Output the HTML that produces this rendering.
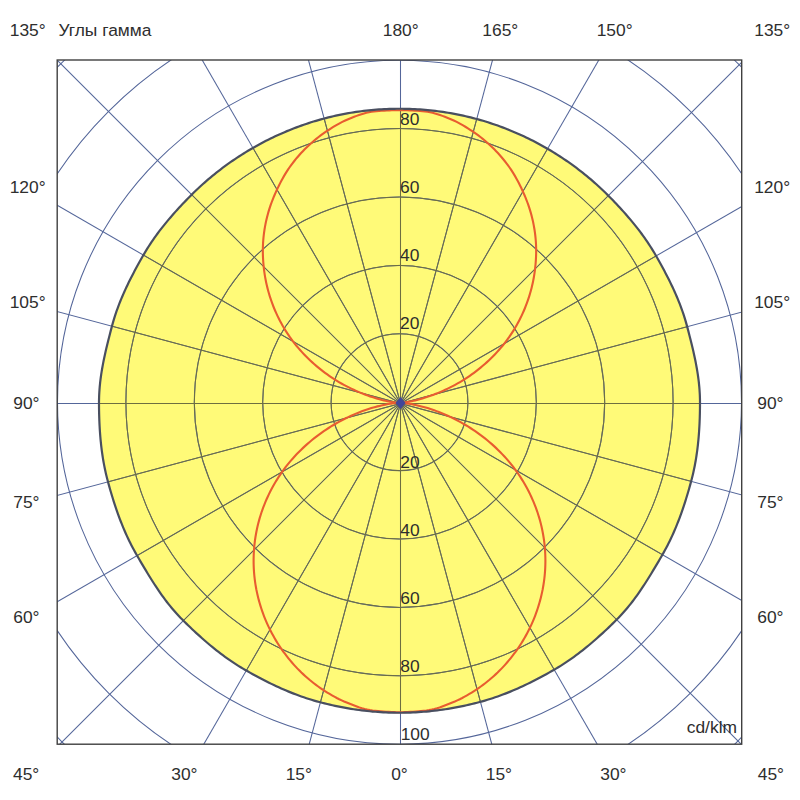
<!DOCTYPE html>
<html><head><meta charset="utf-8"><style>
html,body{margin:0;padding:0;background:#fff;}
svg{display:block;}
text{font-family:"Liberation Sans",sans-serif;font-size:17.4px;fill:#2e2e2e;}
</style></head><body>
<svg width="800" height="800" viewBox="0 0 800 800">
<defs><clipPath id="yc"><path d="M399.50,712.75 L402.20,712.74 L404.91,712.70 L407.61,712.64 L410.31,712.55 L413.02,712.45 L415.72,712.31 L418.41,712.15 L421.11,711.97 L423.81,711.76 L426.50,711.53 L429.19,711.28 L431.88,711.00 L434.57,710.70 L437.25,710.37 L439.93,710.02 L442.61,709.65 L445.29,709.26 L447.96,708.84 L450.62,708.40 L453.29,707.93 L455.94,707.44 L458.60,706.93 L461.25,706.40 L463.89,705.85 L466.53,705.27 L469.17,704.67 L471.80,704.05 L474.42,703.40 L477.04,702.74 L479.66,702.05 L482.26,701.33 L484.86,700.59 L487.45,699.82 L490.03,699.01 L492.60,698.18 L495.16,697.32 L497.72,696.44 L500.26,695.52 L502.79,694.58 L505.31,693.62 L507.82,692.63 L510.33,691.61 L512.82,690.57 L515.30,689.51 L517.77,688.42 L520.23,687.32 L522.68,686.19 L525.12,685.05 L527.55,683.88 L529.97,682.70 L532.38,681.50 L534.79,680.28 L537.18,679.05 L539.57,677.80 L541.94,676.53 L544.31,675.25 L546.67,673.96 L549.02,672.65 L551.37,671.32 L553.70,669.98 L556.02,668.62 L558.33,667.24 L560.62,665.82 L562.89,664.38 L565.15,662.91 L567.38,661.42 L569.60,659.90 L571.81,658.36 L573.99,656.79 L576.16,655.20 L578.31,653.59 L580.45,651.95 L582.57,650.30 L584.67,648.63 L586.76,646.94 L588.83,645.23 L590.88,643.50 L592.92,641.76 L594.95,640.00 L596.96,638.23 L598.96,636.44 L600.95,634.64 L602.93,632.83 L604.89,631.01 L606.84,629.18 L608.78,627.33 L610.71,625.47 L612.63,623.61 L614.54,621.73 L616.44,619.84 L618.32,617.93 L620.17,616.00 L621.99,614.03 L623.78,612.04 L625.54,610.03 L627.27,607.98 L628.97,605.92 L630.65,603.83 L632.29,601.72 L633.91,599.59 L635.50,597.45 L637.07,595.28 L638.61,593.10 L640.13,590.90 L641.63,588.69 L643.11,586.47 L644.57,584.24 L646.01,582.00 L647.44,579.75 L648.85,577.50 L650.25,575.23 L651.63,572.97 L653.01,570.69 L654.38,568.42 L655.73,566.14 L657.08,563.86 L658.43,561.57 L659.77,559.28 L661.10,556.99 L662.43,554.70 L663.74,552.40 L665.02,550.08 L666.27,547.75 L667.50,545.40 L668.70,543.04 L669.87,540.66 L671.02,538.27 L672.14,535.87 L673.23,533.46 L674.29,531.04 L675.33,528.60 L676.35,526.16 L677.34,523.71 L678.31,521.25 L679.25,518.78 L680.17,516.30 L681.08,513.82 L681.96,511.33 L682.82,508.83 L683.66,506.33 L684.49,503.82 L685.30,501.31 L686.09,498.79 L686.86,496.27 L687.62,493.75 L688.37,491.22 L689.10,488.68 L689.82,486.15 L690.52,483.61 L691.21,481.06 L691.88,478.51 L692.51,475.96 L693.12,473.39 L693.70,470.82 L694.24,468.24 L694.76,465.66 L695.25,463.07 L695.71,460.48 L696.14,457.88 L696.54,455.28 L696.92,452.67 L697.27,450.06 L697.60,447.45 L697.90,444.84 L698.17,442.22 L698.43,439.60 L698.66,436.98 L698.87,434.36 L699.06,431.74 L699.23,429.12 L699.38,426.50 L699.52,423.88 L699.63,421.26 L699.73,418.63 L699.81,416.01 L699.88,413.39 L699.93,410.77 L699.97,408.14 L699.99,405.52 L700.00,402.90 L699.98,400.28 L699.92,397.66 L699.83,395.04 L699.69,392.42 L699.52,389.80 L699.31,387.19 L699.07,384.58 L698.79,381.97 L698.48,379.37 L698.13,376.77 L697.76,374.18 L697.36,371.59 L696.93,369.01 L696.47,366.44 L695.99,363.87 L695.49,361.30 L694.97,358.74 L694.43,356.19 L693.87,353.64 L693.29,351.10 L692.70,348.56 L692.10,346.02 L691.49,343.49 L690.87,340.97 L690.24,338.45 L689.59,335.93 L688.95,333.41 L688.29,330.90 L687.63,328.38 L686.96,325.88 L686.27,323.37 L685.55,320.88 L684.80,318.39 L684.02,315.91 L683.20,313.45 L682.36,310.99 L681.49,308.55 L680.59,306.11 L679.66,303.69 L678.71,301.28 L677.73,298.88 L676.72,296.48 L675.69,294.11 L674.64,291.74 L673.57,289.38 L672.48,287.03 L671.36,284.69 L670.24,282.36 L669.09,280.04 L667.93,277.73 L666.75,275.43 L665.56,273.14 L664.35,270.85 L663.13,268.57 L661.90,266.30 L660.66,264.04 L659.41,261.78 L658.14,259.53 L656.87,257.29 L655.58,255.05 L654.28,252.82 L652.95,250.61 L651.59,248.42 L650.21,246.24 L648.81,244.07 L647.37,241.93 L645.92,239.80 L644.44,237.69 L642.94,235.59 L641.42,233.51 L639.87,231.44 L638.31,229.40 L636.72,227.36 L635.12,225.35 L633.50,223.35 L631.86,221.36 L630.21,219.39 L628.54,217.43 L626.86,215.48 L625.16,213.55 L623.45,211.63 L621.72,209.72 L619.99,207.83 L618.24,205.95 L616.48,204.07 L614.71,202.21 L612.93,200.36 L611.14,198.52 L609.34,196.69 L607.53,194.87 L605.71,193.06 L603.87,191.27 L602.01,189.50 L600.14,187.74 L598.25,186.00 L596.35,184.27 L594.43,182.57 L592.50,180.88 L590.55,179.20 L588.59,177.55 L586.62,175.91 L584.62,174.29 L582.62,172.69 L580.60,171.10 L578.57,169.54 L576.52,167.99 L574.46,166.45 L572.39,164.94 L570.30,163.44 L568.20,161.97 L566.09,160.51 L563.97,159.07 L561.83,157.64 L559.68,156.24 L557.52,154.85 L555.35,153.49 L553.17,152.14 L550.97,150.81 L548.77,149.49 L546.55,148.20 L544.32,146.93 L542.08,145.67 L539.83,144.44 L537.57,143.22 L535.30,142.02 L533.02,140.85 L530.73,139.69 L528.43,138.55 L526.12,137.43 L523.80,136.33 L521.47,135.25 L519.14,134.19 L516.79,133.16 L514.43,132.14 L512.07,131.14 L509.69,130.16 L507.31,129.21 L504.92,128.27 L502.52,127.36 L500.11,126.47 L497.70,125.59 L495.28,124.74 L492.85,123.92 L490.41,123.11 L487.97,122.32 L485.51,121.56 L483.06,120.82 L480.59,120.10 L478.12,119.40 L475.64,118.72 L473.16,118.07 L470.67,117.44 L468.18,116.83 L465.68,116.24 L463.18,115.68 L460.67,115.13 L458.15,114.61 L455.63,114.11 L453.11,113.64 L450.59,113.18 L448.05,112.75 L445.52,112.34 L442.98,111.95 L440.44,111.59 L437.90,111.24 L435.35,110.92 L432.80,110.62 L430.25,110.34 L427.69,110.09 L425.14,109.86 L422.58,109.65 L420.02,109.46 L417.46,109.29 L414.89,109.15 L412.33,109.03 L409.77,108.93 L407.20,108.85 L404.63,108.79 L402.07,108.76 L399.50,108.75 L396.93,108.76 L394.37,108.79 L391.80,108.85 L389.23,108.93 L386.67,109.03 L384.11,109.15 L381.54,109.29 L378.98,109.46 L376.42,109.65 L373.86,109.86 L371.31,110.09 L368.75,110.34 L366.20,110.62 L363.65,110.92 L361.10,111.24 L358.56,111.59 L356.02,111.95 L353.48,112.34 L350.95,112.75 L348.41,113.18 L345.89,113.64 L343.37,114.11 L340.85,114.61 L338.33,115.13 L335.82,115.68 L333.32,116.24 L330.82,116.83 L328.33,117.44 L325.84,118.07 L323.36,118.72 L320.88,119.40 L318.41,120.10 L315.94,120.82 L313.49,121.56 L311.03,122.32 L308.59,123.11 L306.15,123.92 L303.72,124.74 L301.30,125.59 L298.89,126.47 L296.48,127.36 L294.08,128.27 L291.69,129.21 L289.31,130.16 L286.93,131.14 L284.57,132.14 L282.21,133.16 L279.86,134.19 L277.53,135.25 L275.20,136.33 L272.88,137.43 L270.57,138.55 L268.27,139.69 L265.98,140.85 L263.70,142.02 L261.43,143.22 L259.17,144.44 L256.92,145.67 L254.68,146.93 L252.45,148.20 L250.23,149.49 L248.03,150.81 L245.83,152.14 L243.65,153.49 L241.48,154.85 L239.32,156.24 L237.17,157.64 L235.03,159.07 L232.91,160.51 L230.80,161.97 L228.70,163.44 L226.61,164.94 L224.54,166.45 L222.48,167.99 L220.43,169.54 L218.40,171.10 L216.38,172.69 L214.38,174.29 L212.38,175.91 L210.41,177.55 L208.45,179.20 L206.50,180.88 L204.57,182.57 L202.65,184.27 L200.75,186.00 L198.86,187.74 L196.99,189.50 L195.13,191.27 L193.29,193.06 L191.47,194.87 L189.66,196.69 L187.86,198.52 L186.07,200.36 L184.29,202.21 L182.52,204.07 L180.76,205.95 L179.01,207.83 L177.28,209.72 L175.55,211.63 L173.84,213.55 L172.14,215.48 L170.46,217.43 L168.79,219.39 L167.14,221.36 L165.50,223.35 L163.88,225.35 L162.28,227.36 L160.69,229.40 L159.13,231.44 L157.58,233.51 L156.06,235.59 L154.56,237.69 L153.08,239.80 L151.63,241.93 L150.19,244.07 L148.79,246.24 L147.41,248.42 L146.05,250.61 L144.72,252.82 L143.42,255.05 L142.13,257.29 L140.86,259.53 L139.59,261.78 L138.34,264.04 L137.10,266.30 L135.87,268.57 L134.65,270.85 L133.44,273.14 L132.25,275.43 L131.07,277.73 L129.91,280.04 L128.76,282.36 L127.64,284.69 L126.52,287.03 L125.43,289.38 L124.36,291.74 L123.31,294.11 L122.28,296.48 L121.27,298.88 L120.29,301.28 L119.34,303.69 L118.41,306.11 L117.51,308.55 L116.64,310.99 L115.80,313.45 L114.98,315.91 L114.20,318.39 L113.45,320.88 L112.73,323.37 L112.04,325.88 L111.37,328.38 L110.71,330.90 L110.05,333.41 L109.41,335.93 L108.76,338.45 L108.13,340.97 L107.51,343.49 L106.90,346.02 L106.30,348.56 L105.71,351.10 L105.13,353.64 L104.57,356.19 L104.03,358.74 L103.51,361.30 L103.01,363.87 L102.53,366.44 L102.07,369.01 L101.64,371.59 L101.24,374.18 L100.87,376.77 L100.52,379.37 L100.21,381.97 L99.93,384.58 L99.69,387.19 L99.48,389.80 L99.31,392.42 L99.17,395.04 L99.08,397.66 L99.02,400.28 L99.00,402.90 L99.01,405.52 L99.03,408.14 L99.07,410.77 L99.12,413.39 L99.19,416.01 L99.27,418.63 L99.37,421.26 L99.48,423.88 L99.62,426.50 L99.77,429.12 L99.94,431.74 L100.13,434.36 L100.34,436.98 L100.57,439.60 L100.83,442.22 L101.10,444.84 L101.40,447.45 L101.73,450.06 L102.08,452.67 L102.46,455.28 L102.86,457.88 L103.29,460.48 L103.75,463.07 L104.24,465.66 L104.76,468.24 L105.30,470.82 L105.88,473.39 L106.49,475.96 L107.12,478.51 L107.79,481.06 L108.48,483.61 L109.18,486.15 L109.90,488.68 L110.63,491.22 L111.38,493.75 L112.14,496.27 L112.91,498.79 L113.70,501.31 L114.51,503.82 L115.34,506.33 L116.18,508.83 L117.04,511.33 L117.92,513.82 L118.83,516.30 L119.75,518.78 L120.69,521.25 L121.66,523.71 L122.65,526.16 L123.67,528.60 L124.71,531.04 L125.77,533.46 L126.86,535.87 L127.98,538.27 L129.13,540.66 L130.30,543.04 L131.50,545.40 L132.73,547.75 L133.98,550.08 L135.26,552.40 L136.57,554.70 L137.90,556.99 L139.23,559.28 L140.57,561.57 L141.92,563.86 L143.27,566.14 L144.62,568.42 L145.99,570.69 L147.37,572.97 L148.75,575.23 L150.15,577.50 L151.56,579.75 L152.99,582.00 L154.43,584.24 L155.89,586.47 L157.37,588.69 L158.87,590.90 L160.39,593.10 L161.93,595.28 L163.50,597.45 L165.09,599.59 L166.71,601.72 L168.35,603.83 L170.03,605.92 L171.73,607.98 L173.46,610.03 L175.22,612.04 L177.01,614.03 L178.83,616.00 L180.68,617.93 L182.56,619.84 L184.46,621.73 L186.37,623.61 L188.29,625.47 L190.22,627.33 L192.16,629.18 L194.11,631.01 L196.07,632.83 L198.05,634.64 L200.04,636.44 L202.04,638.23 L204.05,640.00 L206.08,641.76 L208.12,643.50 L210.17,645.23 L212.24,646.94 L214.33,648.63 L216.43,650.30 L218.55,651.95 L220.69,653.59 L222.84,655.20 L225.01,656.79 L227.19,658.36 L229.40,659.90 L231.62,661.42 L233.85,662.91 L236.11,664.38 L238.38,665.82 L240.67,667.24 L242.98,668.62 L245.30,669.98 L247.63,671.32 L249.98,672.65 L252.33,673.96 L254.69,675.25 L257.06,676.53 L259.43,677.80 L261.82,679.05 L264.21,680.28 L266.62,681.50 L269.03,682.70 L271.45,683.88 L273.88,685.05 L276.32,686.19 L278.77,687.32 L281.23,688.42 L283.70,689.51 L286.18,690.57 L288.67,691.61 L291.18,692.63 L293.69,693.62 L296.21,694.58 L298.74,695.52 L301.28,696.44 L303.84,697.32 L306.40,698.18 L308.97,699.01 L311.55,699.82 L314.14,700.59 L316.74,701.33 L319.34,702.05 L321.96,702.74 L324.58,703.40 L327.20,704.05 L329.83,704.67 L332.47,705.27 L335.11,705.85 L337.75,706.40 L340.40,706.93 L343.06,707.44 L345.71,707.93 L348.38,708.40 L351.04,708.84 L353.71,709.26 L356.39,709.65 L359.07,710.02 L361.75,710.37 L364.43,710.70 L367.12,711.00 L369.81,711.28 L372.50,711.53 L375.19,711.76 L377.89,711.97 L380.59,712.15 L383.28,712.31 L385.98,712.45 L388.69,712.55 L391.39,712.64 L394.09,712.70 L396.80,712.74 L399.50,712.75Z"/></clipPath><clipPath id="fr"><rect x="57.2" y="60.0" width="684.50" height="684.20"/></clipPath></defs>
<rect width="800" height="800" fill="#fff"/>
<path d="M399.50,712.75 L402.20,712.74 L404.91,712.70 L407.61,712.64 L410.31,712.55 L413.02,712.45 L415.72,712.31 L418.41,712.15 L421.11,711.97 L423.81,711.76 L426.50,711.53 L429.19,711.28 L431.88,711.00 L434.57,710.70 L437.25,710.37 L439.93,710.02 L442.61,709.65 L445.29,709.26 L447.96,708.84 L450.62,708.40 L453.29,707.93 L455.94,707.44 L458.60,706.93 L461.25,706.40 L463.89,705.85 L466.53,705.27 L469.17,704.67 L471.80,704.05 L474.42,703.40 L477.04,702.74 L479.66,702.05 L482.26,701.33 L484.86,700.59 L487.45,699.82 L490.03,699.01 L492.60,698.18 L495.16,697.32 L497.72,696.44 L500.26,695.52 L502.79,694.58 L505.31,693.62 L507.82,692.63 L510.33,691.61 L512.82,690.57 L515.30,689.51 L517.77,688.42 L520.23,687.32 L522.68,686.19 L525.12,685.05 L527.55,683.88 L529.97,682.70 L532.38,681.50 L534.79,680.28 L537.18,679.05 L539.57,677.80 L541.94,676.53 L544.31,675.25 L546.67,673.96 L549.02,672.65 L551.37,671.32 L553.70,669.98 L556.02,668.62 L558.33,667.24 L560.62,665.82 L562.89,664.38 L565.15,662.91 L567.38,661.42 L569.60,659.90 L571.81,658.36 L573.99,656.79 L576.16,655.20 L578.31,653.59 L580.45,651.95 L582.57,650.30 L584.67,648.63 L586.76,646.94 L588.83,645.23 L590.88,643.50 L592.92,641.76 L594.95,640.00 L596.96,638.23 L598.96,636.44 L600.95,634.64 L602.93,632.83 L604.89,631.01 L606.84,629.18 L608.78,627.33 L610.71,625.47 L612.63,623.61 L614.54,621.73 L616.44,619.84 L618.32,617.93 L620.17,616.00 L621.99,614.03 L623.78,612.04 L625.54,610.03 L627.27,607.98 L628.97,605.92 L630.65,603.83 L632.29,601.72 L633.91,599.59 L635.50,597.45 L637.07,595.28 L638.61,593.10 L640.13,590.90 L641.63,588.69 L643.11,586.47 L644.57,584.24 L646.01,582.00 L647.44,579.75 L648.85,577.50 L650.25,575.23 L651.63,572.97 L653.01,570.69 L654.38,568.42 L655.73,566.14 L657.08,563.86 L658.43,561.57 L659.77,559.28 L661.10,556.99 L662.43,554.70 L663.74,552.40 L665.02,550.08 L666.27,547.75 L667.50,545.40 L668.70,543.04 L669.87,540.66 L671.02,538.27 L672.14,535.87 L673.23,533.46 L674.29,531.04 L675.33,528.60 L676.35,526.16 L677.34,523.71 L678.31,521.25 L679.25,518.78 L680.17,516.30 L681.08,513.82 L681.96,511.33 L682.82,508.83 L683.66,506.33 L684.49,503.82 L685.30,501.31 L686.09,498.79 L686.86,496.27 L687.62,493.75 L688.37,491.22 L689.10,488.68 L689.82,486.15 L690.52,483.61 L691.21,481.06 L691.88,478.51 L692.51,475.96 L693.12,473.39 L693.70,470.82 L694.24,468.24 L694.76,465.66 L695.25,463.07 L695.71,460.48 L696.14,457.88 L696.54,455.28 L696.92,452.67 L697.27,450.06 L697.60,447.45 L697.90,444.84 L698.17,442.22 L698.43,439.60 L698.66,436.98 L698.87,434.36 L699.06,431.74 L699.23,429.12 L699.38,426.50 L699.52,423.88 L699.63,421.26 L699.73,418.63 L699.81,416.01 L699.88,413.39 L699.93,410.77 L699.97,408.14 L699.99,405.52 L700.00,402.90 L699.98,400.28 L699.92,397.66 L699.83,395.04 L699.69,392.42 L699.52,389.80 L699.31,387.19 L699.07,384.58 L698.79,381.97 L698.48,379.37 L698.13,376.77 L697.76,374.18 L697.36,371.59 L696.93,369.01 L696.47,366.44 L695.99,363.87 L695.49,361.30 L694.97,358.74 L694.43,356.19 L693.87,353.64 L693.29,351.10 L692.70,348.56 L692.10,346.02 L691.49,343.49 L690.87,340.97 L690.24,338.45 L689.59,335.93 L688.95,333.41 L688.29,330.90 L687.63,328.38 L686.96,325.88 L686.27,323.37 L685.55,320.88 L684.80,318.39 L684.02,315.91 L683.20,313.45 L682.36,310.99 L681.49,308.55 L680.59,306.11 L679.66,303.69 L678.71,301.28 L677.73,298.88 L676.72,296.48 L675.69,294.11 L674.64,291.74 L673.57,289.38 L672.48,287.03 L671.36,284.69 L670.24,282.36 L669.09,280.04 L667.93,277.73 L666.75,275.43 L665.56,273.14 L664.35,270.85 L663.13,268.57 L661.90,266.30 L660.66,264.04 L659.41,261.78 L658.14,259.53 L656.87,257.29 L655.58,255.05 L654.28,252.82 L652.95,250.61 L651.59,248.42 L650.21,246.24 L648.81,244.07 L647.37,241.93 L645.92,239.80 L644.44,237.69 L642.94,235.59 L641.42,233.51 L639.87,231.44 L638.31,229.40 L636.72,227.36 L635.12,225.35 L633.50,223.35 L631.86,221.36 L630.21,219.39 L628.54,217.43 L626.86,215.48 L625.16,213.55 L623.45,211.63 L621.72,209.72 L619.99,207.83 L618.24,205.95 L616.48,204.07 L614.71,202.21 L612.93,200.36 L611.14,198.52 L609.34,196.69 L607.53,194.87 L605.71,193.06 L603.87,191.27 L602.01,189.50 L600.14,187.74 L598.25,186.00 L596.35,184.27 L594.43,182.57 L592.50,180.88 L590.55,179.20 L588.59,177.55 L586.62,175.91 L584.62,174.29 L582.62,172.69 L580.60,171.10 L578.57,169.54 L576.52,167.99 L574.46,166.45 L572.39,164.94 L570.30,163.44 L568.20,161.97 L566.09,160.51 L563.97,159.07 L561.83,157.64 L559.68,156.24 L557.52,154.85 L555.35,153.49 L553.17,152.14 L550.97,150.81 L548.77,149.49 L546.55,148.20 L544.32,146.93 L542.08,145.67 L539.83,144.44 L537.57,143.22 L535.30,142.02 L533.02,140.85 L530.73,139.69 L528.43,138.55 L526.12,137.43 L523.80,136.33 L521.47,135.25 L519.14,134.19 L516.79,133.16 L514.43,132.14 L512.07,131.14 L509.69,130.16 L507.31,129.21 L504.92,128.27 L502.52,127.36 L500.11,126.47 L497.70,125.59 L495.28,124.74 L492.85,123.92 L490.41,123.11 L487.97,122.32 L485.51,121.56 L483.06,120.82 L480.59,120.10 L478.12,119.40 L475.64,118.72 L473.16,118.07 L470.67,117.44 L468.18,116.83 L465.68,116.24 L463.18,115.68 L460.67,115.13 L458.15,114.61 L455.63,114.11 L453.11,113.64 L450.59,113.18 L448.05,112.75 L445.52,112.34 L442.98,111.95 L440.44,111.59 L437.90,111.24 L435.35,110.92 L432.80,110.62 L430.25,110.34 L427.69,110.09 L425.14,109.86 L422.58,109.65 L420.02,109.46 L417.46,109.29 L414.89,109.15 L412.33,109.03 L409.77,108.93 L407.20,108.85 L404.63,108.79 L402.07,108.76 L399.50,108.75 L396.93,108.76 L394.37,108.79 L391.80,108.85 L389.23,108.93 L386.67,109.03 L384.11,109.15 L381.54,109.29 L378.98,109.46 L376.42,109.65 L373.86,109.86 L371.31,110.09 L368.75,110.34 L366.20,110.62 L363.65,110.92 L361.10,111.24 L358.56,111.59 L356.02,111.95 L353.48,112.34 L350.95,112.75 L348.41,113.18 L345.89,113.64 L343.37,114.11 L340.85,114.61 L338.33,115.13 L335.82,115.68 L333.32,116.24 L330.82,116.83 L328.33,117.44 L325.84,118.07 L323.36,118.72 L320.88,119.40 L318.41,120.10 L315.94,120.82 L313.49,121.56 L311.03,122.32 L308.59,123.11 L306.15,123.92 L303.72,124.74 L301.30,125.59 L298.89,126.47 L296.48,127.36 L294.08,128.27 L291.69,129.21 L289.31,130.16 L286.93,131.14 L284.57,132.14 L282.21,133.16 L279.86,134.19 L277.53,135.25 L275.20,136.33 L272.88,137.43 L270.57,138.55 L268.27,139.69 L265.98,140.85 L263.70,142.02 L261.43,143.22 L259.17,144.44 L256.92,145.67 L254.68,146.93 L252.45,148.20 L250.23,149.49 L248.03,150.81 L245.83,152.14 L243.65,153.49 L241.48,154.85 L239.32,156.24 L237.17,157.64 L235.03,159.07 L232.91,160.51 L230.80,161.97 L228.70,163.44 L226.61,164.94 L224.54,166.45 L222.48,167.99 L220.43,169.54 L218.40,171.10 L216.38,172.69 L214.38,174.29 L212.38,175.91 L210.41,177.55 L208.45,179.20 L206.50,180.88 L204.57,182.57 L202.65,184.27 L200.75,186.00 L198.86,187.74 L196.99,189.50 L195.13,191.27 L193.29,193.06 L191.47,194.87 L189.66,196.69 L187.86,198.52 L186.07,200.36 L184.29,202.21 L182.52,204.07 L180.76,205.95 L179.01,207.83 L177.28,209.72 L175.55,211.63 L173.84,213.55 L172.14,215.48 L170.46,217.43 L168.79,219.39 L167.14,221.36 L165.50,223.35 L163.88,225.35 L162.28,227.36 L160.69,229.40 L159.13,231.44 L157.58,233.51 L156.06,235.59 L154.56,237.69 L153.08,239.80 L151.63,241.93 L150.19,244.07 L148.79,246.24 L147.41,248.42 L146.05,250.61 L144.72,252.82 L143.42,255.05 L142.13,257.29 L140.86,259.53 L139.59,261.78 L138.34,264.04 L137.10,266.30 L135.87,268.57 L134.65,270.85 L133.44,273.14 L132.25,275.43 L131.07,277.73 L129.91,280.04 L128.76,282.36 L127.64,284.69 L126.52,287.03 L125.43,289.38 L124.36,291.74 L123.31,294.11 L122.28,296.48 L121.27,298.88 L120.29,301.28 L119.34,303.69 L118.41,306.11 L117.51,308.55 L116.64,310.99 L115.80,313.45 L114.98,315.91 L114.20,318.39 L113.45,320.88 L112.73,323.37 L112.04,325.88 L111.37,328.38 L110.71,330.90 L110.05,333.41 L109.41,335.93 L108.76,338.45 L108.13,340.97 L107.51,343.49 L106.90,346.02 L106.30,348.56 L105.71,351.10 L105.13,353.64 L104.57,356.19 L104.03,358.74 L103.51,361.30 L103.01,363.87 L102.53,366.44 L102.07,369.01 L101.64,371.59 L101.24,374.18 L100.87,376.77 L100.52,379.37 L100.21,381.97 L99.93,384.58 L99.69,387.19 L99.48,389.80 L99.31,392.42 L99.17,395.04 L99.08,397.66 L99.02,400.28 L99.00,402.90 L99.01,405.52 L99.03,408.14 L99.07,410.77 L99.12,413.39 L99.19,416.01 L99.27,418.63 L99.37,421.26 L99.48,423.88 L99.62,426.50 L99.77,429.12 L99.94,431.74 L100.13,434.36 L100.34,436.98 L100.57,439.60 L100.83,442.22 L101.10,444.84 L101.40,447.45 L101.73,450.06 L102.08,452.67 L102.46,455.28 L102.86,457.88 L103.29,460.48 L103.75,463.07 L104.24,465.66 L104.76,468.24 L105.30,470.82 L105.88,473.39 L106.49,475.96 L107.12,478.51 L107.79,481.06 L108.48,483.61 L109.18,486.15 L109.90,488.68 L110.63,491.22 L111.38,493.75 L112.14,496.27 L112.91,498.79 L113.70,501.31 L114.51,503.82 L115.34,506.33 L116.18,508.83 L117.04,511.33 L117.92,513.82 L118.83,516.30 L119.75,518.78 L120.69,521.25 L121.66,523.71 L122.65,526.16 L123.67,528.60 L124.71,531.04 L125.77,533.46 L126.86,535.87 L127.98,538.27 L129.13,540.66 L130.30,543.04 L131.50,545.40 L132.73,547.75 L133.98,550.08 L135.26,552.40 L136.57,554.70 L137.90,556.99 L139.23,559.28 L140.57,561.57 L141.92,563.86 L143.27,566.14 L144.62,568.42 L145.99,570.69 L147.37,572.97 L148.75,575.23 L150.15,577.50 L151.56,579.75 L152.99,582.00 L154.43,584.24 L155.89,586.47 L157.37,588.69 L158.87,590.90 L160.39,593.10 L161.93,595.28 L163.50,597.45 L165.09,599.59 L166.71,601.72 L168.35,603.83 L170.03,605.92 L171.73,607.98 L173.46,610.03 L175.22,612.04 L177.01,614.03 L178.83,616.00 L180.68,617.93 L182.56,619.84 L184.46,621.73 L186.37,623.61 L188.29,625.47 L190.22,627.33 L192.16,629.18 L194.11,631.01 L196.07,632.83 L198.05,634.64 L200.04,636.44 L202.04,638.23 L204.05,640.00 L206.08,641.76 L208.12,643.50 L210.17,645.23 L212.24,646.94 L214.33,648.63 L216.43,650.30 L218.55,651.95 L220.69,653.59 L222.84,655.20 L225.01,656.79 L227.19,658.36 L229.40,659.90 L231.62,661.42 L233.85,662.91 L236.11,664.38 L238.38,665.82 L240.67,667.24 L242.98,668.62 L245.30,669.98 L247.63,671.32 L249.98,672.65 L252.33,673.96 L254.69,675.25 L257.06,676.53 L259.43,677.80 L261.82,679.05 L264.21,680.28 L266.62,681.50 L269.03,682.70 L271.45,683.88 L273.88,685.05 L276.32,686.19 L278.77,687.32 L281.23,688.42 L283.70,689.51 L286.18,690.57 L288.67,691.61 L291.18,692.63 L293.69,693.62 L296.21,694.58 L298.74,695.52 L301.28,696.44 L303.84,697.32 L306.40,698.18 L308.97,699.01 L311.55,699.82 L314.14,700.59 L316.74,701.33 L319.34,702.05 L321.96,702.74 L324.58,703.40 L327.20,704.05 L329.83,704.67 L332.47,705.27 L335.11,705.85 L337.75,706.40 L340.40,706.93 L343.06,707.44 L345.71,707.93 L348.38,708.40 L351.04,708.84 L353.71,709.26 L356.39,709.65 L359.07,710.02 L361.75,710.37 L364.43,710.70 L367.12,711.00 L369.81,711.28 L372.50,711.53 L375.19,711.76 L377.89,711.97 L380.59,712.15 L383.28,712.31 L385.98,712.45 L388.69,712.55 L391.39,712.64 L394.09,712.70 L396.80,712.74 L399.50,712.75Z" fill="#fffa78" stroke="none"/>
<g clip-path="url(#fr)" fill="none" stroke="#54669a" stroke-width="1.05">
<circle cx="399.5" cy="402.2" r="68.40"/><circle cx="399.5" cy="402.2" r="136.80"/><circle cx="399.5" cy="402.2" r="205.20"/><circle cx="399.5" cy="402.2" r="273.60"/><circle cx="399.5" cy="402.2" r="342.00"/><circle cx="399.5" cy="402.2" r="411.40"/><circle cx="399.5" cy="402.2" r="478.80"/><line x1="400.50" y1="-296.50" x2="400.50" y2="1103.50"/><line x1="581.67" y1="-272.65" x2="219.33" y2="1079.65"/><line x1="750.50" y1="-202.72" x2="50.50" y2="1009.72"/><line x1="895.47" y1="-91.47" x2="-94.47" y2="898.47"/><line x1="1006.72" y1="53.50" x2="-205.72" y2="753.50"/><line x1="1076.65" y1="222.33" x2="-275.65" y2="584.67"/><line x1="1100.50" y1="403.50" x2="-299.50" y2="403.50"/><line x1="1076.65" y1="584.67" x2="-275.65" y2="222.33"/><line x1="1006.72" y1="753.50" x2="-205.72" y2="53.50"/><line x1="895.47" y1="898.47" x2="-94.47" y2="-91.47"/><line x1="750.50" y1="1009.72" x2="50.50" y2="-202.72"/><line x1="581.67" y1="1079.65" x2="219.33" y2="-272.65"/>
</g>
<g clip-path="url(#yc)" fill="none" stroke="#6e6e40" stroke-width="1">
<circle cx="399.5" cy="402.2" r="68.40"/><circle cx="399.5" cy="402.2" r="136.80"/><circle cx="399.5" cy="402.2" r="205.20"/><circle cx="399.5" cy="402.2" r="273.60"/><circle cx="399.5" cy="402.2" r="342.00"/><circle cx="399.5" cy="402.2" r="411.40"/><circle cx="399.5" cy="402.2" r="478.80"/><line x1="400.50" y1="-296.50" x2="400.50" y2="1103.50"/><line x1="581.67" y1="-272.65" x2="219.33" y2="1079.65"/><line x1="750.50" y1="-202.72" x2="50.50" y2="1009.72"/><line x1="895.47" y1="-91.47" x2="-94.47" y2="898.47"/><line x1="1006.72" y1="53.50" x2="-205.72" y2="753.50"/><line x1="1076.65" y1="222.33" x2="-275.65" y2="584.67"/><line x1="1100.50" y1="403.50" x2="-299.50" y2="403.50"/><line x1="1076.65" y1="584.67" x2="-275.65" y2="222.33"/><line x1="1006.72" y1="753.50" x2="-205.72" y2="53.50"/><line x1="895.47" y1="898.47" x2="-94.47" y2="-91.47"/><line x1="750.50" y1="1009.72" x2="50.50" y2="-202.72"/><line x1="581.67" y1="1079.65" x2="219.33" y2="-272.65"/>
</g>
<rect x="57.2" y="60.0" width="684.50" height="684.20" fill="none" stroke="#404040" stroke-width="1.4"/>
<g fill="none" stroke="#e85c30" stroke-width="2.1">
<path d="M399.50,402.90 L399.43,402.90 L399.23,402.90 L398.92,402.88 L398.51,402.87 L398.01,402.83 L397.43,402.79 L396.81,402.74 L396.13,402.66 L395.43,402.58 L394.72,402.48 L393.89,402.36 L392.86,402.20 L391.64,402.00 L390.27,401.77 L388.78,401.49 L387.18,401.17 L385.51,400.81 L383.79,400.41 L382.04,399.98 L380.30,399.51 L378.48,399.01 L376.54,398.44 L374.47,397.81 L372.31,397.12 L370.08,396.38 L367.79,395.58 L365.46,394.73 L363.11,393.83 L360.77,392.88 L358.45,391.90 L356.11,390.87 L353.72,389.77 L351.29,388.62 L348.83,387.41 L346.35,386.14 L343.87,384.82 L341.40,383.46 L338.96,382.05 L336.55,380.61 L334.19,379.13 L331.87,377.61 L329.57,376.06 L327.28,374.45 L325.02,372.81 L322.79,371.13 L320.58,369.40 L318.40,367.64 L316.25,365.83 L314.13,363.99 L312.04,362.12 L309.98,360.20 L307.94,358.25 L305.93,356.25 L303.95,354.22 L302.01,352.15 L300.10,350.05 L298.24,347.92 L296.43,345.77 L294.68,343.59 L292.98,341.40 L291.34,339.19 L289.74,336.95 L288.20,334.69 L286.70,332.41 L285.25,330.11 L283.84,327.79 L282.49,325.45 L281.17,323.09 L279.90,320.70 L278.68,318.30 L277.49,315.87 L276.35,313.43 L275.26,310.97 L274.21,308.49 L273.21,305.99 L272.25,303.48 L271.34,300.96 L270.48,298.42 L269.66,295.87 L268.89,293.30 L268.17,290.73 L267.49,288.14 L266.86,285.55 L266.27,282.94 L265.73,280.32 L265.24,277.70 L264.79,275.07 L264.39,272.43 L264.04,269.78 L263.74,267.14 L263.48,264.48 L263.26,261.82 L263.08,259.15 L262.95,256.47 L262.87,253.80 L262.84,251.12 L262.86,248.45 L262.93,245.79 L263.05,243.14 L263.23,240.50 L263.46,237.87 L263.74,235.25 L264.07,232.64 L264.44,230.03 L264.87,227.44 L265.34,224.86 L265.85,222.29 L266.42,219.73 L267.03,217.19 L267.69,214.66 L268.40,212.15 L269.15,209.65 L269.95,207.17 L270.79,204.70 L271.67,202.25 L272.60,199.81 L273.56,197.39 L274.57,194.98 L275.62,192.59 L276.70,190.20 L277.82,187.83 L278.97,185.46 L280.16,183.10 L281.38,180.76 L282.65,178.43 L283.95,176.13 L285.30,173.86 L286.70,171.62 L288.13,169.42 L289.62,167.26 L291.15,165.14 L292.71,163.05 L294.31,160.99 L295.95,158.96 L297.63,156.96 L299.34,154.99 L301.09,153.06 L302.87,151.17 L304.69,149.31 L306.54,147.49 L308.42,145.71 L310.34,143.95 L312.28,142.23 L314.25,140.53 L316.25,138.88 L318.29,137.26 L320.35,135.68 L322.43,134.14 L324.55,132.64 L326.69,131.19 L328.86,129.76 L331.05,128.35 L333.26,126.98 L335.49,125.63 L337.74,124.33 L340.02,123.07 L342.32,121.87 L344.65,120.74 L347.01,119.67 L349.39,118.68 L351.78,117.74 L354.19,116.80 L356.60,115.88 L359.04,115.00 L361.49,114.17 L363.96,113.41 L366.44,112.74 L368.94,112.18 L371.46,111.73 L374.00,111.41 L376.54,111.18 L379.09,110.98 L381.63,110.80 L384.18,110.64 L386.73,110.50 L389.29,110.39 L391.84,110.31 L394.39,110.25 L396.95,110.21 L399.50,110.20 L402.05,110.21 L404.61,110.25 L407.16,110.31 L409.71,110.39 L412.27,110.50 L414.82,110.64 L417.37,110.80 L419.91,110.98 L422.46,111.18 L425.00,111.41 L427.54,111.73 L430.06,112.18 L432.56,112.74 L435.04,113.41 L437.51,114.17 L439.96,115.00 L442.40,115.88 L444.81,116.80 L447.22,117.74 L449.61,118.68 L451.99,119.67 L454.35,120.74 L456.68,121.87 L458.98,123.07 L461.26,124.33 L463.51,125.63 L465.74,126.98 L467.95,128.35 L470.14,129.76 L472.31,131.19 L474.45,132.64 L476.57,134.14 L478.65,135.68 L480.71,137.26 L482.75,138.88 L484.75,140.53 L486.72,142.23 L488.66,143.95 L490.58,145.71 L492.46,147.49 L494.31,149.31 L496.13,151.17 L497.91,153.06 L499.66,154.99 L501.37,156.96 L503.05,158.96 L504.69,160.99 L506.29,163.05 L507.85,165.14 L509.38,167.26 L510.87,169.42 L512.30,171.62 L513.70,173.86 L515.05,176.13 L516.35,178.43 L517.62,180.76 L518.84,183.10 L520.03,185.46 L521.18,187.83 L522.30,190.20 L523.38,192.59 L524.43,194.98 L525.44,197.39 L526.40,199.81 L527.33,202.25 L528.21,204.70 L529.05,207.17 L529.85,209.65 L530.60,212.15 L531.31,214.66 L531.97,217.19 L532.58,219.73 L533.15,222.29 L533.66,224.86 L534.13,227.44 L534.56,230.03 L534.93,232.64 L535.26,235.25 L535.54,237.87 L535.77,240.50 L535.95,243.14 L536.07,245.79 L536.14,248.45 L536.16,251.12 L536.13,253.80 L536.05,256.47 L535.92,259.15 L535.74,261.82 L535.52,264.48 L535.26,267.14 L534.96,269.78 L534.61,272.43 L534.21,275.07 L533.76,277.70 L533.27,280.32 L532.73,282.94 L532.14,285.55 L531.51,288.14 L530.83,290.73 L530.11,293.30 L529.34,295.87 L528.52,298.42 L527.66,300.96 L526.75,303.48 L525.79,305.99 L524.79,308.49 L523.74,310.97 L522.65,313.43 L521.51,315.87 L520.32,318.30 L519.10,320.70 L517.83,323.09 L516.51,325.45 L515.16,327.79 L513.75,330.11 L512.30,332.41 L510.80,334.69 L509.26,336.95 L507.66,339.19 L506.02,341.40 L504.32,343.59 L502.57,345.77 L500.76,347.92 L498.90,350.05 L496.99,352.15 L495.05,354.22 L493.07,356.25 L491.06,358.25 L489.02,360.20 L486.96,362.12 L484.87,363.99 L482.75,365.83 L480.60,367.64 L478.42,369.40 L476.21,371.13 L473.98,372.81 L471.72,374.45 L469.43,376.06 L467.13,377.61 L464.81,379.13 L462.45,380.61 L460.04,382.05 L457.60,383.46 L455.13,384.82 L452.65,386.14 L450.17,387.41 L447.71,388.62 L445.28,389.77 L442.89,390.87 L440.55,391.90 L438.23,392.88 L435.89,393.83 L433.54,394.73 L431.21,395.58 L428.92,396.38 L426.69,397.12 L424.53,397.81 L422.46,398.44 L420.52,399.01 L418.70,399.51 L416.96,399.98 L415.21,400.41 L413.49,400.81 L411.82,401.17 L410.22,401.49 L408.73,401.77 L407.36,402.00 L406.14,402.20 L405.11,402.36 L404.28,402.48 L403.57,402.58 L402.87,402.66 L402.19,402.74 L401.57,402.79 L400.99,402.83 L400.49,402.87 L400.08,402.88 L399.77,402.90 L399.57,402.90 L399.50,402.90"/>
<path d="M399.50,402.90 L399.08,402.90 L398.54,402.92 L397.89,402.94 L397.14,402.98 L396.29,403.04 L395.37,403.12 L394.39,403.21 L393.34,403.33 L392.26,403.47 L391.13,403.63 L389.89,403.82 L388.47,404.06 L386.89,404.34 L385.17,404.66 L383.34,405.03 L381.42,405.44 L379.45,405.90 L377.44,406.39 L375.41,406.93 L373.40,407.50 L371.36,408.12 L369.23,408.78 L367.04,409.50 L364.78,410.28 L362.47,411.11 L360.13,411.99 L357.76,412.92 L355.38,413.90 L353.00,414.93 L350.62,416.00 L348.24,417.12 L345.82,418.29 L343.38,419.52 L340.92,420.81 L338.44,422.15 L335.97,423.54 L333.50,424.98 L331.04,426.47 L328.61,428.00 L326.20,429.58 L323.81,431.20 L321.42,432.87 L319.04,434.59 L316.67,436.37 L314.32,438.18 L311.99,440.04 L309.70,441.95 L307.44,443.89 L305.23,445.86 L303.07,447.87 L300.95,449.91 L298.86,451.98 L296.81,454.10 L294.79,456.25 L292.82,458.43 L290.89,460.65 L289.00,462.90 L287.16,465.17 L285.37,467.47 L283.63,469.80 L281.94,472.15 L280.29,474.53 L278.69,476.93 L277.14,479.36 L275.64,481.81 L274.18,484.28 L272.77,486.78 L271.41,489.29 L270.11,491.83 L268.85,494.39 L267.63,496.96 L266.47,499.55 L265.35,502.17 L264.28,504.80 L263.26,507.44 L262.29,510.10 L261.37,512.77 L260.51,515.46 L259.69,518.15 L258.93,520.85 L258.22,523.56 L257.56,526.28 L256.95,529.01 L256.40,531.75 L255.89,534.50 L255.43,537.25 L255.02,540.00 L254.67,542.76 L254.37,545.52 L254.12,548.28 L253.92,551.04 L253.77,553.81 L253.67,556.58 L253.61,559.35 L253.61,562.11 L253.66,564.87 L253.76,567.63 L253.90,570.39 L254.11,573.13 L254.36,575.87 L254.66,578.60 L255.01,581.33 L255.41,584.04 L255.86,586.75 L256.35,589.45 L256.90,592.14 L257.49,594.82 L258.13,597.48 L258.81,600.14 L259.55,602.77 L260.33,605.40 L261.15,608.01 L262.02,610.61 L262.93,613.20 L263.89,615.77 L264.89,618.32 L265.94,620.85 L267.03,623.37 L268.17,625.86 L269.35,628.33 L270.58,630.77 L271.84,633.20 L273.15,635.61 L274.50,637.99 L275.89,640.35 L277.32,642.69 L278.79,645.00 L280.30,647.29 L281.86,649.55 L283.45,651.77 L285.08,653.97 L286.74,656.15 L288.44,658.31 L290.18,660.44 L291.95,662.54 L293.76,664.61 L295.61,666.64 L297.49,668.63 L299.42,670.59 L301.37,672.50 L303.37,674.37 L305.39,676.21 L307.45,678.02 L309.53,679.80 L311.65,681.53 L313.79,683.23 L315.97,684.89 L318.18,686.50 L320.42,688.07 L322.68,689.59 L324.97,691.07 L327.29,692.53 L329.63,693.95 L331.99,695.34 L334.37,696.68 L336.78,697.98 L339.21,699.22 L341.67,700.40 L344.15,701.53 L346.66,702.58 L349.18,703.59 L351.72,704.60 L354.26,705.58 L356.83,706.52 L359.41,707.41 L362.01,708.23 L364.63,708.97 L367.26,709.61 L369.92,710.13 L372.59,710.52 L375.27,710.83 L377.95,711.11 L380.63,711.36 L383.32,711.58 L386.01,711.77 L388.71,711.92 L391.40,712.04 L394.10,712.13 L396.80,712.18 L399.50,712.20 L402.20,712.18 L404.90,712.13 L407.60,712.04 L410.29,711.92 L412.99,711.77 L415.68,711.58 L418.37,711.36 L421.05,711.11 L423.73,710.83 L426.41,710.52 L429.08,710.13 L431.74,709.61 L434.37,708.97 L436.99,708.23 L439.59,707.41 L442.17,706.52 L444.74,705.58 L447.28,704.60 L449.82,703.59 L452.34,702.58 L454.85,701.53 L457.33,700.40 L459.79,699.22 L462.22,697.98 L464.63,696.68 L467.01,695.34 L469.37,693.95 L471.71,692.53 L474.03,691.07 L476.32,689.59 L478.58,688.07 L480.82,686.50 L483.03,684.89 L485.21,683.23 L487.35,681.53 L489.47,679.80 L491.55,678.02 L493.61,676.21 L495.63,674.37 L497.63,672.50 L499.58,670.59 L501.51,668.63 L503.39,666.64 L505.24,664.61 L507.05,662.54 L508.82,660.44 L510.56,658.31 L512.26,656.15 L513.92,653.97 L515.55,651.77 L517.14,649.55 L518.70,647.29 L520.21,645.00 L521.68,642.69 L523.11,640.35 L524.50,637.99 L525.85,635.61 L527.16,633.20 L528.42,630.77 L529.65,628.33 L530.83,625.86 L531.97,623.37 L533.06,620.85 L534.11,618.32 L535.11,615.77 L536.07,613.20 L536.98,610.61 L537.85,608.01 L538.67,605.40 L539.45,602.77 L540.19,600.14 L540.87,597.48 L541.51,594.82 L542.10,592.14 L542.65,589.45 L543.14,586.75 L543.59,584.04 L543.99,581.33 L544.34,578.60 L544.64,575.87 L544.89,573.13 L545.10,570.39 L545.24,567.63 L545.34,564.87 L545.39,562.11 L545.39,559.35 L545.33,556.58 L545.23,553.81 L545.08,551.04 L544.88,548.28 L544.63,545.52 L544.33,542.76 L543.98,540.00 L543.57,537.25 L543.11,534.50 L542.60,531.75 L542.05,529.01 L541.44,526.28 L540.78,523.56 L540.07,520.85 L539.31,518.15 L538.49,515.46 L537.63,512.77 L536.71,510.10 L535.74,507.44 L534.72,504.80 L533.65,502.17 L532.53,499.55 L531.37,496.96 L530.15,494.39 L528.89,491.83 L527.59,489.29 L526.23,486.78 L524.82,484.28 L523.36,481.81 L521.86,479.36 L520.31,476.93 L518.71,474.53 L517.06,472.15 L515.37,469.80 L513.63,467.47 L511.84,465.17 L510.00,462.90 L508.11,460.65 L506.18,458.43 L504.21,456.25 L502.19,454.10 L500.14,451.98 L498.05,449.91 L495.93,447.87 L493.77,445.86 L491.56,443.89 L489.30,441.95 L487.01,440.04 L484.68,438.18 L482.33,436.37 L479.96,434.59 L477.58,432.87 L475.19,431.20 L472.80,429.58 L470.39,428.00 L467.96,426.47 L465.50,424.98 L463.03,423.54 L460.56,422.15 L458.08,420.81 L455.62,419.52 L453.18,418.29 L450.76,417.12 L448.38,416.00 L446.00,414.93 L443.62,413.90 L441.24,412.92 L438.87,411.99 L436.53,411.11 L434.22,410.28 L431.96,409.50 L429.77,408.78 L427.64,408.12 L425.60,407.50 L423.59,406.93 L421.56,406.39 L419.55,405.90 L417.58,405.44 L415.66,405.03 L413.83,404.66 L412.11,404.34 L410.53,404.06 L409.11,403.82 L407.87,403.63 L406.74,403.47 L405.66,403.33 L404.61,403.21 L403.63,403.12 L402.71,403.04 L401.86,402.98 L401.11,402.94 L400.46,402.92 L399.92,402.90 L399.50,402.90"/>
</g>
<path d="M399.50,712.75 L402.20,712.74 L404.91,712.70 L407.61,712.64 L410.31,712.55 L413.02,712.45 L415.72,712.31 L418.41,712.15 L421.11,711.97 L423.81,711.76 L426.50,711.53 L429.19,711.28 L431.88,711.00 L434.57,710.70 L437.25,710.37 L439.93,710.02 L442.61,709.65 L445.29,709.26 L447.96,708.84 L450.62,708.40 L453.29,707.93 L455.94,707.44 L458.60,706.93 L461.25,706.40 L463.89,705.85 L466.53,705.27 L469.17,704.67 L471.80,704.05 L474.42,703.40 L477.04,702.74 L479.66,702.05 L482.26,701.33 L484.86,700.59 L487.45,699.82 L490.03,699.01 L492.60,698.18 L495.16,697.32 L497.72,696.44 L500.26,695.52 L502.79,694.58 L505.31,693.62 L507.82,692.63 L510.33,691.61 L512.82,690.57 L515.30,689.51 L517.77,688.42 L520.23,687.32 L522.68,686.19 L525.12,685.05 L527.55,683.88 L529.97,682.70 L532.38,681.50 L534.79,680.28 L537.18,679.05 L539.57,677.80 L541.94,676.53 L544.31,675.25 L546.67,673.96 L549.02,672.65 L551.37,671.32 L553.70,669.98 L556.02,668.62 L558.33,667.24 L560.62,665.82 L562.89,664.38 L565.15,662.91 L567.38,661.42 L569.60,659.90 L571.81,658.36 L573.99,656.79 L576.16,655.20 L578.31,653.59 L580.45,651.95 L582.57,650.30 L584.67,648.63 L586.76,646.94 L588.83,645.23 L590.88,643.50 L592.92,641.76 L594.95,640.00 L596.96,638.23 L598.96,636.44 L600.95,634.64 L602.93,632.83 L604.89,631.01 L606.84,629.18 L608.78,627.33 L610.71,625.47 L612.63,623.61 L614.54,621.73 L616.44,619.84 L618.32,617.93 L620.17,616.00 L621.99,614.03 L623.78,612.04 L625.54,610.03 L627.27,607.98 L628.97,605.92 L630.65,603.83 L632.29,601.72 L633.91,599.59 L635.50,597.45 L637.07,595.28 L638.61,593.10 L640.13,590.90 L641.63,588.69 L643.11,586.47 L644.57,584.24 L646.01,582.00 L647.44,579.75 L648.85,577.50 L650.25,575.23 L651.63,572.97 L653.01,570.69 L654.38,568.42 L655.73,566.14 L657.08,563.86 L658.43,561.57 L659.77,559.28 L661.10,556.99 L662.43,554.70 L663.74,552.40 L665.02,550.08 L666.27,547.75 L667.50,545.40 L668.70,543.04 L669.87,540.66 L671.02,538.27 L672.14,535.87 L673.23,533.46 L674.29,531.04 L675.33,528.60 L676.35,526.16 L677.34,523.71 L678.31,521.25 L679.25,518.78 L680.17,516.30 L681.08,513.82 L681.96,511.33 L682.82,508.83 L683.66,506.33 L684.49,503.82 L685.30,501.31 L686.09,498.79 L686.86,496.27 L687.62,493.75 L688.37,491.22 L689.10,488.68 L689.82,486.15 L690.52,483.61 L691.21,481.06 L691.88,478.51 L692.51,475.96 L693.12,473.39 L693.70,470.82 L694.24,468.24 L694.76,465.66 L695.25,463.07 L695.71,460.48 L696.14,457.88 L696.54,455.28 L696.92,452.67 L697.27,450.06 L697.60,447.45 L697.90,444.84 L698.17,442.22 L698.43,439.60 L698.66,436.98 L698.87,434.36 L699.06,431.74 L699.23,429.12 L699.38,426.50 L699.52,423.88 L699.63,421.26 L699.73,418.63 L699.81,416.01 L699.88,413.39 L699.93,410.77 L699.97,408.14 L699.99,405.52 L700.00,402.90 L699.98,400.28 L699.92,397.66 L699.83,395.04 L699.69,392.42 L699.52,389.80 L699.31,387.19 L699.07,384.58 L698.79,381.97 L698.48,379.37 L698.13,376.77 L697.76,374.18 L697.36,371.59 L696.93,369.01 L696.47,366.44 L695.99,363.87 L695.49,361.30 L694.97,358.74 L694.43,356.19 L693.87,353.64 L693.29,351.10 L692.70,348.56 L692.10,346.02 L691.49,343.49 L690.87,340.97 L690.24,338.45 L689.59,335.93 L688.95,333.41 L688.29,330.90 L687.63,328.38 L686.96,325.88 L686.27,323.37 L685.55,320.88 L684.80,318.39 L684.02,315.91 L683.20,313.45 L682.36,310.99 L681.49,308.55 L680.59,306.11 L679.66,303.69 L678.71,301.28 L677.73,298.88 L676.72,296.48 L675.69,294.11 L674.64,291.74 L673.57,289.38 L672.48,287.03 L671.36,284.69 L670.24,282.36 L669.09,280.04 L667.93,277.73 L666.75,275.43 L665.56,273.14 L664.35,270.85 L663.13,268.57 L661.90,266.30 L660.66,264.04 L659.41,261.78 L658.14,259.53 L656.87,257.29 L655.58,255.05 L654.28,252.82 L652.95,250.61 L651.59,248.42 L650.21,246.24 L648.81,244.07 L647.37,241.93 L645.92,239.80 L644.44,237.69 L642.94,235.59 L641.42,233.51 L639.87,231.44 L638.31,229.40 L636.72,227.36 L635.12,225.35 L633.50,223.35 L631.86,221.36 L630.21,219.39 L628.54,217.43 L626.86,215.48 L625.16,213.55 L623.45,211.63 L621.72,209.72 L619.99,207.83 L618.24,205.95 L616.48,204.07 L614.71,202.21 L612.93,200.36 L611.14,198.52 L609.34,196.69 L607.53,194.87 L605.71,193.06 L603.87,191.27 L602.01,189.50 L600.14,187.74 L598.25,186.00 L596.35,184.27 L594.43,182.57 L592.50,180.88 L590.55,179.20 L588.59,177.55 L586.62,175.91 L584.62,174.29 L582.62,172.69 L580.60,171.10 L578.57,169.54 L576.52,167.99 L574.46,166.45 L572.39,164.94 L570.30,163.44 L568.20,161.97 L566.09,160.51 L563.97,159.07 L561.83,157.64 L559.68,156.24 L557.52,154.85 L555.35,153.49 L553.17,152.14 L550.97,150.81 L548.77,149.49 L546.55,148.20 L544.32,146.93 L542.08,145.67 L539.83,144.44 L537.57,143.22 L535.30,142.02 L533.02,140.85 L530.73,139.69 L528.43,138.55 L526.12,137.43 L523.80,136.33 L521.47,135.25 L519.14,134.19 L516.79,133.16 L514.43,132.14 L512.07,131.14 L509.69,130.16 L507.31,129.21 L504.92,128.27 L502.52,127.36 L500.11,126.47 L497.70,125.59 L495.28,124.74 L492.85,123.92 L490.41,123.11 L487.97,122.32 L485.51,121.56 L483.06,120.82 L480.59,120.10 L478.12,119.40 L475.64,118.72 L473.16,118.07 L470.67,117.44 L468.18,116.83 L465.68,116.24 L463.18,115.68 L460.67,115.13 L458.15,114.61 L455.63,114.11 L453.11,113.64 L450.59,113.18 L448.05,112.75 L445.52,112.34 L442.98,111.95 L440.44,111.59 L437.90,111.24 L435.35,110.92 L432.80,110.62 L430.25,110.34 L427.69,110.09 L425.14,109.86 L422.58,109.65 L420.02,109.46 L417.46,109.29 L414.89,109.15 L412.33,109.03 L409.77,108.93 L407.20,108.85 L404.63,108.79 L402.07,108.76 L399.50,108.75 L396.93,108.76 L394.37,108.79 L391.80,108.85 L389.23,108.93 L386.67,109.03 L384.11,109.15 L381.54,109.29 L378.98,109.46 L376.42,109.65 L373.86,109.86 L371.31,110.09 L368.75,110.34 L366.20,110.62 L363.65,110.92 L361.10,111.24 L358.56,111.59 L356.02,111.95 L353.48,112.34 L350.95,112.75 L348.41,113.18 L345.89,113.64 L343.37,114.11 L340.85,114.61 L338.33,115.13 L335.82,115.68 L333.32,116.24 L330.82,116.83 L328.33,117.44 L325.84,118.07 L323.36,118.72 L320.88,119.40 L318.41,120.10 L315.94,120.82 L313.49,121.56 L311.03,122.32 L308.59,123.11 L306.15,123.92 L303.72,124.74 L301.30,125.59 L298.89,126.47 L296.48,127.36 L294.08,128.27 L291.69,129.21 L289.31,130.16 L286.93,131.14 L284.57,132.14 L282.21,133.16 L279.86,134.19 L277.53,135.25 L275.20,136.33 L272.88,137.43 L270.57,138.55 L268.27,139.69 L265.98,140.85 L263.70,142.02 L261.43,143.22 L259.17,144.44 L256.92,145.67 L254.68,146.93 L252.45,148.20 L250.23,149.49 L248.03,150.81 L245.83,152.14 L243.65,153.49 L241.48,154.85 L239.32,156.24 L237.17,157.64 L235.03,159.07 L232.91,160.51 L230.80,161.97 L228.70,163.44 L226.61,164.94 L224.54,166.45 L222.48,167.99 L220.43,169.54 L218.40,171.10 L216.38,172.69 L214.38,174.29 L212.38,175.91 L210.41,177.55 L208.45,179.20 L206.50,180.88 L204.57,182.57 L202.65,184.27 L200.75,186.00 L198.86,187.74 L196.99,189.50 L195.13,191.27 L193.29,193.06 L191.47,194.87 L189.66,196.69 L187.86,198.52 L186.07,200.36 L184.29,202.21 L182.52,204.07 L180.76,205.95 L179.01,207.83 L177.28,209.72 L175.55,211.63 L173.84,213.55 L172.14,215.48 L170.46,217.43 L168.79,219.39 L167.14,221.36 L165.50,223.35 L163.88,225.35 L162.28,227.36 L160.69,229.40 L159.13,231.44 L157.58,233.51 L156.06,235.59 L154.56,237.69 L153.08,239.80 L151.63,241.93 L150.19,244.07 L148.79,246.24 L147.41,248.42 L146.05,250.61 L144.72,252.82 L143.42,255.05 L142.13,257.29 L140.86,259.53 L139.59,261.78 L138.34,264.04 L137.10,266.30 L135.87,268.57 L134.65,270.85 L133.44,273.14 L132.25,275.43 L131.07,277.73 L129.91,280.04 L128.76,282.36 L127.64,284.69 L126.52,287.03 L125.43,289.38 L124.36,291.74 L123.31,294.11 L122.28,296.48 L121.27,298.88 L120.29,301.28 L119.34,303.69 L118.41,306.11 L117.51,308.55 L116.64,310.99 L115.80,313.45 L114.98,315.91 L114.20,318.39 L113.45,320.88 L112.73,323.37 L112.04,325.88 L111.37,328.38 L110.71,330.90 L110.05,333.41 L109.41,335.93 L108.76,338.45 L108.13,340.97 L107.51,343.49 L106.90,346.02 L106.30,348.56 L105.71,351.10 L105.13,353.64 L104.57,356.19 L104.03,358.74 L103.51,361.30 L103.01,363.87 L102.53,366.44 L102.07,369.01 L101.64,371.59 L101.24,374.18 L100.87,376.77 L100.52,379.37 L100.21,381.97 L99.93,384.58 L99.69,387.19 L99.48,389.80 L99.31,392.42 L99.17,395.04 L99.08,397.66 L99.02,400.28 L99.00,402.90 L99.01,405.52 L99.03,408.14 L99.07,410.77 L99.12,413.39 L99.19,416.01 L99.27,418.63 L99.37,421.26 L99.48,423.88 L99.62,426.50 L99.77,429.12 L99.94,431.74 L100.13,434.36 L100.34,436.98 L100.57,439.60 L100.83,442.22 L101.10,444.84 L101.40,447.45 L101.73,450.06 L102.08,452.67 L102.46,455.28 L102.86,457.88 L103.29,460.48 L103.75,463.07 L104.24,465.66 L104.76,468.24 L105.30,470.82 L105.88,473.39 L106.49,475.96 L107.12,478.51 L107.79,481.06 L108.48,483.61 L109.18,486.15 L109.90,488.68 L110.63,491.22 L111.38,493.75 L112.14,496.27 L112.91,498.79 L113.70,501.31 L114.51,503.82 L115.34,506.33 L116.18,508.83 L117.04,511.33 L117.92,513.82 L118.83,516.30 L119.75,518.78 L120.69,521.25 L121.66,523.71 L122.65,526.16 L123.67,528.60 L124.71,531.04 L125.77,533.46 L126.86,535.87 L127.98,538.27 L129.13,540.66 L130.30,543.04 L131.50,545.40 L132.73,547.75 L133.98,550.08 L135.26,552.40 L136.57,554.70 L137.90,556.99 L139.23,559.28 L140.57,561.57 L141.92,563.86 L143.27,566.14 L144.62,568.42 L145.99,570.69 L147.37,572.97 L148.75,575.23 L150.15,577.50 L151.56,579.75 L152.99,582.00 L154.43,584.24 L155.89,586.47 L157.37,588.69 L158.87,590.90 L160.39,593.10 L161.93,595.28 L163.50,597.45 L165.09,599.59 L166.71,601.72 L168.35,603.83 L170.03,605.92 L171.73,607.98 L173.46,610.03 L175.22,612.04 L177.01,614.03 L178.83,616.00 L180.68,617.93 L182.56,619.84 L184.46,621.73 L186.37,623.61 L188.29,625.47 L190.22,627.33 L192.16,629.18 L194.11,631.01 L196.07,632.83 L198.05,634.64 L200.04,636.44 L202.04,638.23 L204.05,640.00 L206.08,641.76 L208.12,643.50 L210.17,645.23 L212.24,646.94 L214.33,648.63 L216.43,650.30 L218.55,651.95 L220.69,653.59 L222.84,655.20 L225.01,656.79 L227.19,658.36 L229.40,659.90 L231.62,661.42 L233.85,662.91 L236.11,664.38 L238.38,665.82 L240.67,667.24 L242.98,668.62 L245.30,669.98 L247.63,671.32 L249.98,672.65 L252.33,673.96 L254.69,675.25 L257.06,676.53 L259.43,677.80 L261.82,679.05 L264.21,680.28 L266.62,681.50 L269.03,682.70 L271.45,683.88 L273.88,685.05 L276.32,686.19 L278.77,687.32 L281.23,688.42 L283.70,689.51 L286.18,690.57 L288.67,691.61 L291.18,692.63 L293.69,693.62 L296.21,694.58 L298.74,695.52 L301.28,696.44 L303.84,697.32 L306.40,698.18 L308.97,699.01 L311.55,699.82 L314.14,700.59 L316.74,701.33 L319.34,702.05 L321.96,702.74 L324.58,703.40 L327.20,704.05 L329.83,704.67 L332.47,705.27 L335.11,705.85 L337.75,706.40 L340.40,706.93 L343.06,707.44 L345.71,707.93 L348.38,708.40 L351.04,708.84 L353.71,709.26 L356.39,709.65 L359.07,710.02 L361.75,710.37 L364.43,710.70 L367.12,711.00 L369.81,711.28 L372.50,711.53 L375.19,711.76 L377.89,711.97 L380.59,712.15 L383.28,712.31 L385.98,712.45 L388.69,712.55 L391.39,712.64 L394.09,712.70 L396.80,712.74 L399.50,712.75Z" fill="none" stroke="#494f60" stroke-width="2.2"/>
<path d="M395.5,403.0 L400.5,397.0 L405.5,403.0 L400.5,409.0Z" fill="#40469a"/>
<text x="9.75" y="36" text-anchor="start">135°</text><text x="58.5" y="36" text-anchor="start">Углы гамма</text><text x="382.75" y="36" text-anchor="start">180°</text><text x="482.35" y="36" text-anchor="start">165°</text><text x="596.65" y="36" text-anchor="start">150°</text><text x="754.25" y="36" text-anchor="start">135°</text><text x="9.65" y="193.2" text-anchor="start">120°</text><text x="754.15" y="193.2" text-anchor="start">120°</text><text x="9.65" y="307.7" text-anchor="start">105°</text><text x="754.15" y="307.7" text-anchor="start">105°</text><text x="13.25" y="408.6" text-anchor="start">90°</text><text x="757.25" y="408.6" text-anchor="start">90°</text><text x="13.25" y="508" text-anchor="start">75°</text><text x="757.25" y="508" text-anchor="start">75°</text><text x="13.25" y="622.8" text-anchor="start">60°</text><text x="757.25" y="622.8" text-anchor="start">60°</text><text x="13.0" y="780" text-anchor="start">45°</text><text x="171.25" y="780" text-anchor="start">30°</text><text x="285.65" y="780" text-anchor="start">15°</text><text x="391.15" y="780" text-anchor="start">0°</text><text x="485.75" y="780" text-anchor="start">15°</text><text x="600.25" y="780" text-anchor="start">30°</text><text x="757.75" y="780" text-anchor="start">45°</text><text x="400.0" y="124.6" text-anchor="start">80</text><text x="400.0" y="193.2" text-anchor="start">60</text><text x="400.0" y="261.3" text-anchor="start">40</text><text x="400.0" y="329.2" text-anchor="start">20</text><text x="400.25" y="467.5" text-anchor="start">20</text><text x="400.25" y="535.9" text-anchor="start">40</text><text x="400.25" y="603.6" text-anchor="start">60</text><text x="400.25" y="671.5" text-anchor="start">80</text><text x="400.65" y="739.9" text-anchor="start">100</text><text x="686.75" y="733" text-anchor="start">cd/klm</text>
</svg>
</body></html>
